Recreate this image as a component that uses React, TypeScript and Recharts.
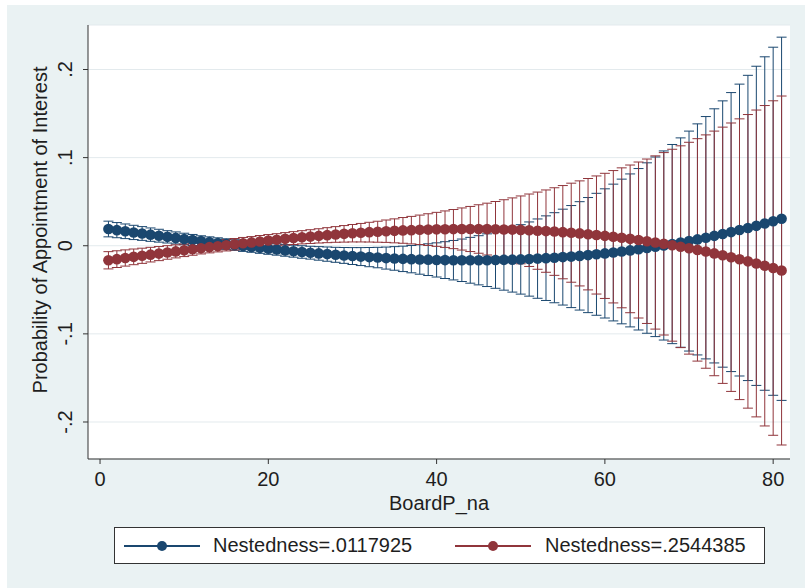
import { ComposedChart, Line, XAxis, YAxis, CartesianGrid, ErrorBar, Label } from "recharts";

// BoardP_na values (x axis)
const boardP = [
  1, 2, 3, 4, 5, 6, 7, 8, 9, 10, 11, 12, 13, 14, 15, 16, 17, 18, 19, 20,
  21, 22, 23, 24, 25, 26, 27, 28, 29, 30, 31, 32, 33, 34, 35, 36, 37, 38, 39, 40,
  41, 42, 43, 44, 45, 46, 47, 48, 49, 50, 51, 52, 53, 54, 55, 56, 57, 58, 59, 60,
  61, 62, 63, 64, 65, 66, 67, 68, 69, 70, 71, 72, 73, 74, 75, 76, 77, 78, 79, 80, 81,
];

// margins for Nestedness=.0117925 and their 95% CI half widths
const lowNestMargin = [
  0.019, 0.0177, 0.0164, 0.0151, 0.0139, 0.0126, 0.0114, 0.0101, 0.0089, 0.0077,
  0.0065, 0.0053, 0.0041, 0.003, 0.0019, 0.0008, -0.0003, -0.0013, -0.0024, -0.0034,
  -0.0043, -0.0053, -0.0062, -0.0071, -0.0079, -0.0087, -0.0095, -0.0103, -0.011, -0.0117,
  -0.0123, -0.0129, -0.0134, -0.014, -0.0144, -0.0149, -0.0152, -0.0156, -0.0158, -0.0161,
  -0.0163, -0.0164, -0.0165, -0.0165, -0.0165, -0.0164, -0.0162, -0.016, -0.0158, -0.0155,
  -0.0151, -0.0146, -0.0141, -0.0136, -0.0129, -0.0123, -0.0115, -0.0106, -0.0097, -0.0087,
  -0.0077, -0.0065, -0.0053, -0.004, -0.0026, -0.0012, 0.0003, 0.0019, 0.0036, 0.0053,
  0.0072, 0.0091, 0.0112, 0.0133, 0.0155, 0.0178, 0.0202, 0.0226, 0.0252, 0.0278, 0.0306,
];
const lowNestCI = [
  0.0089, 0.0086, 0.0083, 0.0081, 0.0078, 0.0076, 0.0073, 0.007, 0.0068, 0.0065,
  0.0063, 0.006, 0.006, 0.006, 0.006, 0.006, 0.0061, 0.0061, 0.0062, 0.0063,
  0.0064, 0.0066, 0.0068, 0.0071, 0.0073, 0.0077, 0.0081, 0.0085, 0.009, 0.0096,
  0.0102, 0.0109, 0.0116, 0.0125, 0.0134, 0.0144, 0.0155, 0.0167, 0.018, 0.0194,
  0.0209, 0.0224, 0.0241, 0.026, 0.0279, 0.0299, 0.0321, 0.0344, 0.0368, 0.0394,
  0.0421, 0.045, 0.048, 0.0511, 0.0544, 0.0579, 0.0615, 0.0653, 0.0692, 0.0733,
  0.0776, 0.0821, 0.0868, 0.0916, 0.0967, 0.1019, 0.1073, 0.113, 0.1188, 0.1248,
  0.1311, 0.1375, 0.1442, 0.1511, 0.1583, 0.1656, 0.1732, 0.1811, 0.1892, 0.1975, 0.2061,
];

// margins for Nestedness=.2544385 and their 95% CI half widths
const highNestMargin = [
  -0.0165, -0.0152, -0.0139, -0.0126, -0.0114, -0.0101, -0.0089, -0.0076, -0.0064, -0.0052,
  -0.004, -0.0028, -0.0016, -0.0005, 0.0006, 0.0017, 0.0028, 0.0038, 0.0049, 0.0059,
  0.0068, 0.0078, 0.0087, 0.0096, 0.0104, 0.0112, 0.012, 0.0128, 0.0135, 0.0142,
  0.0148, 0.0154, 0.0159, 0.0165, 0.0169, 0.0174, 0.0177, 0.0181, 0.0183, 0.0186,
  0.0188, 0.0189, 0.019, 0.019, 0.019, 0.0189, 0.0187, 0.0185, 0.0183, 0.018,
  0.0176, 0.0171, 0.0166, 0.0161, 0.0154, 0.0148, 0.014, 0.0131, 0.0122, 0.0112,
  0.0102, 0.009, 0.0078, 0.0065, 0.0051, 0.0037, 0.0022, 0.0006, -0.0011, -0.0028,
  -0.0047, -0.0066, -0.0087, -0.0108, -0.013, -0.0153, -0.0177, -0.0201, -0.0227, -0.0253, -0.0281,
];
const highNestCI = [
  0.0098, 0.0095, 0.0092, 0.0089, 0.0086, 0.0083, 0.008, 0.0077, 0.0074, 0.0071,
  0.0068, 0.0065, 0.0065, 0.0065, 0.0065, 0.0065, 0.0066, 0.0066, 0.0067, 0.0068,
  0.0069, 0.0071, 0.0073, 0.0075, 0.0078, 0.0081, 0.0085, 0.0089, 0.0094, 0.0099,
  0.0105, 0.0112, 0.0119, 0.0127, 0.0136, 0.0146, 0.0156, 0.0167, 0.018, 0.0193,
  0.0207, 0.0222, 0.0239, 0.0256, 0.0275, 0.0294, 0.0315, 0.0337, 0.036, 0.0385,
  0.0411, 0.0438, 0.0467, 0.0497, 0.0529, 0.0562, 0.0596, 0.0632, 0.067, 0.071,
  0.0751, 0.0794, 0.0838, 0.0885, 0.0933, 0.0983, 0.1035, 0.1089, 0.1145, 0.1202,
  0.1262, 0.1324, 0.1388, 0.1454, 0.1523, 0.1593, 0.1666, 0.1741, 0.1818, 0.1898, 0.198,
];

const xTicks = [0, 20, 40, 60, 80];
const yTicks = [-0.2, -0.1, 0, 0.1, 0.2];
const seriesNames = ["Nestedness=.0117925", "Nestedness=.2544385"];

const BLUE = "#1a476f";
const RED = "#90353b";
const TEXT = "#1e1e1e";
const FONT = "'Liberation Sans', Arial, sans-serif";

const data = boardP.map((x, i) => ({
  x,
  low: lowNestMargin[i],
  lowCI: lowNestCI[i],
  high: highNestMargin[i],
  highCI: highNestCI[i],
}));

// stata style numbers: .2, -.1, 0
const stataNum = (v: number) => (v === 0 ? "0" : String(v).replace("0.", "."));

function YTick({ x, y, payload }: any) {
  return (
    <text
      x={x}
      y={y}
      transform={`rotate(-90, ${x}, ${y})`}
      textAnchor="middle"
      fontSize={20}
      fontFamily={FONT}
      fill={TEXT}
    >
      {stataNum(payload.value)}
    </text>
  );
}

function LegendMarker({ color }: { color: string }) {
  return (
    <svg width={76} height={12} style={{ position: "absolute", top: 12 }}>
      <line x1={0} y1={6} x2={76} y2={6} stroke={color} strokeWidth={2} />
      <circle cx={38} cy={6} r={5} fill={color} />
    </svg>
  );
}

export default function App() {
  return (
    <div style={{ position: "absolute", left: 0, top: 0, width: 805, height: 588, background: "#fff" }}>
      <div style={{ position: "absolute", left: 7, top: 5, width: 798, height: 583, background: "#eaf2f3" }} />
      <div style={{ position: "absolute", left: 0, top: 0 }}>
        <ComposedChart width={805} height={588} data={data} margin={{ top: 25, right: 15, bottom: 69, left: 0 }}>
          <CartesianGrid fill="#ffffff" vertical={false} stroke="#e3eaed" />
          <XAxis
            dataKey="x"
            type="number"
            domain={[-1.43, 82]}
            ticks={xTicks}
            allowDataOverflow
            height={60}
            tickSize={5}
            tickMargin={8}
            stroke="#333"
            tick={{ fontSize: 20, fontFamily: FONT, fill: TEXT }}
          >
            <Label
              content={({ viewBox }: any) => (
                <text
                  x={viewBox.x + viewBox.width / 2}
                  y={viewBox.y + 51}
                  textAnchor="middle"
                  fontSize={20}
                  fontFamily={FONT}
                  fill={TEXT}
                >
                  BoardP_na
                </text>
              )}
            />
          </XAxis>
          <YAxis
            type="number"
            domain={[-0.242, 0.2505]}
            ticks={yTicks}
            allowDataOverflow
            width={88}
            tickSize={5}
            tickMargin={11}
            stroke="#333"
            tick={<YTick />}
          >
            <Label
              content={({ viewBox }: any) => (
                <text
                  x={47}
                  y={viewBox.y + viewBox.height / 2 - 12}
                  transform={`rotate(-90, 47, ${viewBox.y + viewBox.height / 2 - 12})`}
                  textAnchor="middle"
                  fontSize={20}
                  fontFamily={FONT}
                  fill={TEXT}
                >
                  Probability of Appointment of Interest
                </text>
              )}
            />
          </YAxis>

          {/* confidence intervals first, like marginsplot */}
          <Line dataKey="low" stroke="none" dot={false} activeDot={false} isAnimationActive={false}>
            <ErrorBar dataKey="lowCI" width={5} stroke={BLUE} strokeWidth={1} isAnimationActive={false} />
          </Line>
          <Line dataKey="high" stroke="none" dot={false} activeDot={false} isAnimationActive={false}>
            <ErrorBar dataKey="highCI" width={5} stroke={RED} strokeWidth={1} isAnimationActive={false} />
          </Line>

          <Line
            dataKey="low"
            name={seriesNames[0]}
            stroke={BLUE}
            strokeWidth={2}
            dot={{ r: 5.3, fill: BLUE, stroke: BLUE, strokeWidth: 0 }}
            isAnimationActive={false}
          />
          <Line
            dataKey="high"
            name={seriesNames[1]}
            stroke={RED}
            strokeWidth={2}
            dot={{ r: 5.3, fill: RED, stroke: RED, strokeWidth: 0 }}
            isAnimationActive={false}
          />
        </ComposedChart>
      </div>

      {/* legend box under the plot */}
      <div
        style={{
          position: "absolute",
          left: 114,
          top: 527,
          width: 651,
          height: 37,
          boxSizing: "border-box",
          border: "1px solid #333",
          background: "#fff",
          fontFamily: FONT,
          fontSize: 20,
          color: TEXT,
        }}
      >
        <div style={{ position: "absolute", left: 9 }}>
          <LegendMarker color={BLUE} />
        </div>
        <div style={{ position: "absolute", left: 98, top: 6, whiteSpace: "nowrap" }}>{seriesNames[0]}</div>
        <div style={{ position: "absolute", left: 340 }}>
          <LegendMarker color={RED} />
        </div>
        <div style={{ position: "absolute", left: 430, top: 6, whiteSpace: "nowrap" }}>{seriesNames[1]}</div>
      </div>
    </div>
  );
}
